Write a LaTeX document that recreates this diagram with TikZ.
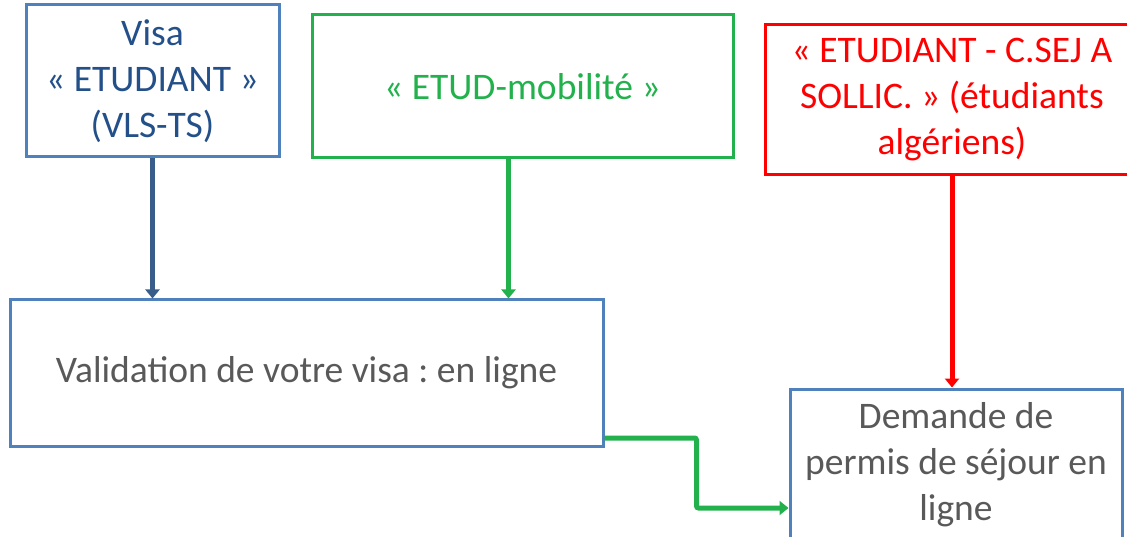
\documentclass[tikz,border=0pt]{standalone}
\usepackage{fontspec}
\setmainfont{Carlito}
\frenchspacing
\usetikzlibrary{positioning}
\usetikzlibrary{calc}
\usetikzlibrary{arrows.meta}
\definecolor{boxblue}{HTML}{4F81BD}
\definecolor{visablue}{HTML}{24508A}
\definecolor{linkblue}{HTML}{385D8A}
\definecolor{mobgreen}{HTML}{22B14C}
\definecolor{algred}{HTML}{FF0000}
\definecolor{textgray}{HTML}{595959}
\tikzset{
  box/.style      = { rectangle, inner sep=0pt, align=center, line width=3pt,
                      font=\fontsize{37.5}{46}\selectfont },
  visabox/.style  = { box, draw=boxblue, text=visablue },
  mobbox/.style   = { box, draw=mobgreen, text=mobgreen },
  algbox/.style   = { box, draw=algred, text=algred },
  stepbox/.style  = { box, draw=boxblue, text=textgray },
  link/.style     = { line width=5pt, -{Triangle[width=14pt,length=9pt]} },
}

\begin{document}
\begin{tikzpicture}[x=1pt,y=-1pt]
  \useasboundingbox (0,0) rectangle (1127,537);

  \node (visa)   [visabox,minimum width=253pt,minimum height=152pt] at (152.5,81)
                 {Visa\\«~ETUDIANT~»\\(VLS-TS)};
  \node (mob)    [mobbox,minimum width=421pt,minimum height=143pt]  at (522.5,86.5)
                 {«~ETUD-mobilité~»};
  \node (alg)    [algbox,minimum width=374pt,minimum height=150pt]  at (952,100)
                 {«~ETUDIANT - C.SEJ A\\SOLLIC.~» (étudiants\\algériens)};
  \node (valid)  [stepbox,minimum width=593pt,minimum height=146pt] at (306.5,373)
                 {Validation de votre visa : en ligne};
  \node (permit) [stepbox,minimum width=332pt,minimum height=152pt] at (956,465)
                 {Demande de\\permis de séjour en\\ligne};

  \coordinate (out) at ([yshift=-65pt]valid.east);
  \coordinate (in)  at ([yshift=-43pt]permit.west);

  \draw [link,linkblue] (visa.south) -- (visa.south |- valid.north);
  \draw [link,mobgreen] ([xshift=-14pt]mob.south) -- ([xshift=-14pt]mob.south |- valid.north);
  \draw [link,algred]   (alg.south) -- (alg.south |- permit.north);
  \draw [link,mobgreen,rounded corners=2pt] (out) -| ($(out)!.5!(in)$) |- (in);

\end{tikzpicture}
\end{document}
